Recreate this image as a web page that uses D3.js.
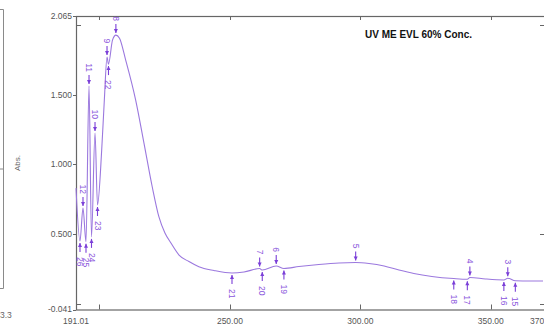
<!DOCTYPE html>
<html>
<head>
<meta charset="utf-8">
<script src="https://cdn.jsdelivr.net/npm/d3@7"></script>
<style>
  body { margin: 0; background: #fff; }
  svg { display: block; font-family: "Liberation Sans", Arial, sans-serif; }
</style>
</head>
<body>
<div id="graphic"></div>
<script>
// spectrum
var specNm  = [191.01, 192.54, 193.69, 194.84, 196.00, 196.95, 198.30, 199.25, 200.86, 201.87,
               202.90, 203.46, 205.00, 206.30, 207.68, 210.05, 213.88, 217.06, 220.24, 222.80,
               225.10, 227.40, 230.50, 234.30, 238.10, 243.90, 250.80, 255.40, 261.40, 262.40,
               267.75, 270.70, 276.45, 284.10, 291.80, 298.20, 303.30, 309.10, 314.80, 320.50,
               327.40, 335.80, 341.00, 341.97, 348.00, 355.00, 356.50, 359.40, 365.00, 370.00];
var specAbs = [0.830, 0.450, 0.687, 0.445, 1.562, 0.480, 1.225, 0.709, 1.103, 1.462,
               1.770, 1.720, 1.892, 1.928, 1.906, 1.749, 1.462, 1.153, 0.838, 0.623,
               0.508, 0.436, 0.350, 0.303, 0.266, 0.239, 0.221, 0.228, 0.253, 0.242,
               0.271, 0.253, 0.267, 0.282, 0.293, 0.296, 0.289, 0.271, 0.242, 0.217,
               0.196, 0.181, 0.176, 0.189, 0.178, 0.171, 0.183, 0.165, 0.163, 0.163];

// peak picks (arrow above) and valley picks (arrow below)
var peakNo  = [12, 11, 10, 9, 8, 7, 6, 5, 4, 3];
var peakNm  = [193.69, 196.00, 198.30, 202.90, 206.30, 261.40, 267.75, 298.20, 341.97, 356.50];
var peakAbs = [0.687, 1.562, 1.225, 1.770, 1.928, 0.253, 0.271, 0.296, 0.189, 0.183];

var valleyNo  = [26, 25, 24, 23, 22, 21, 20, 19, 18, 17, 16, 15];
var valleyNm  = [192.54, 194.84, 196.95, 199.25, 203.46, 250.80, 262.40, 270.70, 335.80, 341.00, 355.00, 359.40];
var valleyAbs = [0.450, 0.445, 0.480, 0.709, 1.720, 0.221, 0.242, 0.253, 0.181, 0.176, 0.171, 0.165];

// axis labels
var xLabels  = ["191.01", "250.00", "300.00", "350.00", "370.00"];
var xLabVals = [191.01, 250, 300, 350, 370];
var xInner   = [200, 250, 300, 350];
var yLabels  = ["-0.041", "0.500", "1.000", "1.500", "2.065"];
var yLabVals = [-0.041, 0.5, 1.0, 1.5, 2.065];
var yInner   = [0, 2.0];

var title = "UV ME EVL 60% Conc.";

var W = 544, H = 329;
var plot = {left: 76, right: 543, top: 16, bottom: 309.5};

var svg = d3.select("#graphic").append("svg")
    .attr("width", W)
    .attr("height", H);

var xScale = d3.scaleLinear().domain([191.01, 370]).range([plot.left, plot.right]);
var yScale = d3.scaleLinear().domain([-0.041, 2.065]).range([plot.bottom, plot.top]);

var curveCol = "#9b78de", markCol = "#7b3fd8", labCol = "#8a55dc", axisCol = "#555";

// remnant of neighbouring panel on the left
svg.append("path")
    .attr("d", "M0,9.5H3.5V288.5H0")
    .attr("fill", "none").attr("stroke", "#8a8a8a");
svg.append("line").attr("x1", 0).attr("x2", 3).attr("y1", 169).attr("y2", 169).attr("stroke", "#8a8a8a");
svg.append("text").attr("x", 0).attr("y", 318).attr("font-size", 8.5).attr("fill", "#666").text("3.3");

// frame
svg.append("rect")
    .attr("x", plot.left + 0.5).attr("y", plot.top + 0.5)
    .attr("width", plot.right - plot.left + 2).attr("height", plot.bottom - plot.top)
    .attr("fill", "none").attr("stroke", "#666").attr("stroke-width", 1.2);

// x axis: inner ticks on bottom and top, labels below
var gx = svg.append("g").attr("class", "x axis");
xInner.forEach(function (v) {
    var x = Math.round(xScale(v)) + 0.5;
    gx.append("line").attr("x1", x).attr("x2", x).attr("y1", plot.bottom).attr("y2", plot.bottom - 5).attr("stroke", "#666");
    gx.append("line").attr("x1", x).attr("x2", x).attr("y1", plot.top).attr("y2", plot.top + 4).attr("stroke", "#666");
});
xLabVals.forEach(function (v, i) {
    gx.append("text")
        .attr("x", xScale(v)).attr("y", 324)
        .attr("text-anchor", "middle")
        .attr("font-size", 8.5).attr("fill", axisCol)
        .text(xLabels[i]);
});
svg.append("text").attr("x", 310).attr("y", 336).attr("text-anchor", "middle")
    .attr("font-size", 9).attr("fill", "#777").text("nm.");

// y axis
var gy = svg.append("g").attr("class", "y axis");
yLabVals.forEach(function (v, i) {
    var y = Math.round(yScale(v)) + 0.5;
    gy.append("line").attr("x1", plot.left - 3).attr("x2", plot.left).attr("y1", y).attr("y2", y).attr("stroke", "#666");
    gy.append("text")
        .attr("x", plot.left - 4).attr("y", yScale(v)).attr("dy", "0.35em")
        .attr("text-anchor", "end")
        .attr("font-size", 8.5).attr("fill", axisCol)
        .text(yLabels[i]);
});
yInner.concat([0.5]).forEach(function (v) {
    var y = Math.round(yScale(v)) + 0.5;
    if (v != 0.5) gy.append("line").attr("x1", plot.left).attr("x2", plot.left + 5).attr("y1", y).attr("y2", y).attr("stroke", "#666");
    gy.append("line").attr("x1", plot.right - 3).attr("x2", plot.right + 1).attr("y1", y).attr("y2", y).attr("stroke", "#666");
});
svg.append("text")
    .attr("transform", "translate(20,163) rotate(-90)")
    .attr("text-anchor", "middle")
    .attr("font-size", 8).attr("fill", "#666")
    .text("Abs.");

// spectrum
var data = specNm.map(function (d, i) { return {nm: d, abs: specAbs[i]}; });
var line = d3.line()
    .x(function (d) { return xScale(d.nm); })
    .y(function (d) { return yScale(d.abs); })
    .curve(d3.curveMonotoneX);

svg.append("path")
    .datum(data)
    .attr("d", line)
    .attr("fill", "none")
    .attr("stroke", curveCol)
    .attr("stroke-width", 1.1);

// pick markers
function drawPick(no, nm, a, up) {
    var x = xScale(nm), yc = yScale(a);
    var s = up ? -1 : 1;           // peaks: above the curve, valleys: below
    var tip = yc + s * 2, tail = yc + s * 11;
    var g = svg.append("g").attr("class", "pick");
    g.append("line").attr("x1", x).attr("x2", x).attr("y1", tip).attr("y2", tail)
        .attr("stroke", markCol).attr("stroke-width", 1.1);
    g.append("path")
        .attr("d", "M" + x + "," + tip + "L" + (x - 2) + "," + (tip + s * 4) + "L" + (x + 2) + "," + (tip + s * 4) + "Z")
        .attr("fill", markCol);
    g.append("text")
        .attr("transform", "translate(" + x + "," + (up ? yc - 14 : yc + 16) + ") rotate(90)")
        .attr("dy", "0.35em")
        .attr("text-anchor", up ? "end" : "start")
        .attr("font-size", 8.5).attr("fill", labCol)
        .text(no);
}
peakNo.forEach(function (n, i) { drawPick(n, peakNm[i], peakAbs[i], true); });
valleyNo.forEach(function (n, i) { drawPick(n, valleyNm[i], valleyAbs[i], false); });

// title
svg.append("text")
    .attr("x", 365).attr("y", 38)
    .attr("font-size", 10).attr("font-weight", "bold").attr("fill", "#111")
    .text(title);
</script>
</body>
</html>
